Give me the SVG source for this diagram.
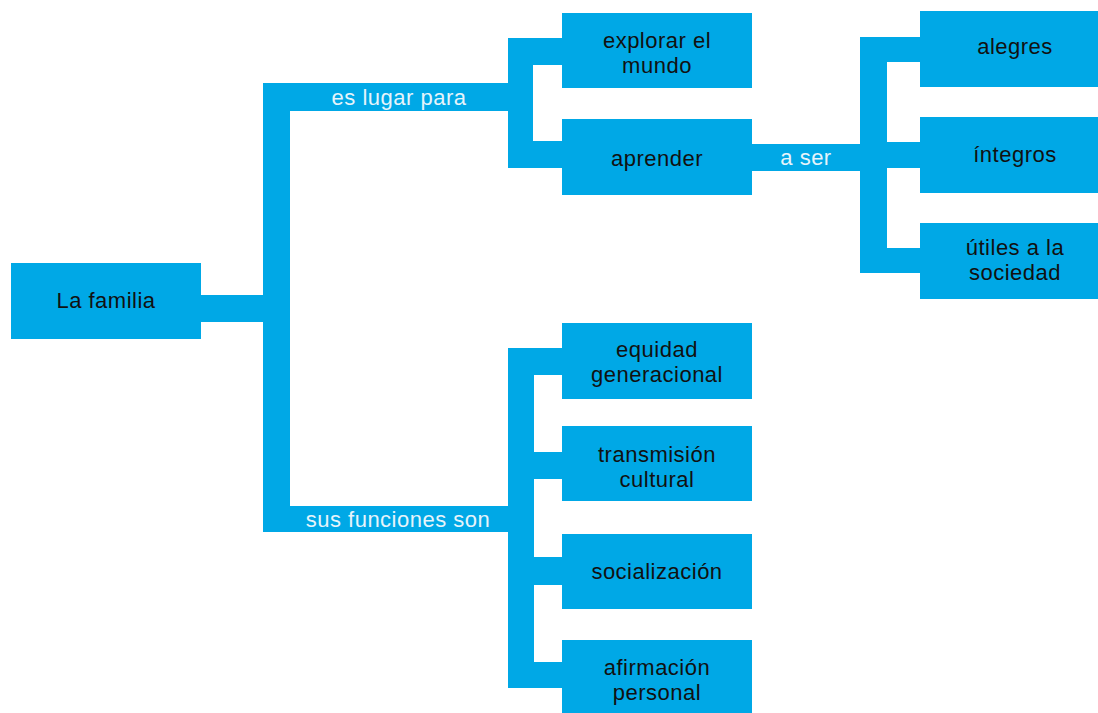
<svg xmlns="http://www.w3.org/2000/svg" width="1098" height="713" viewBox="0 0 1098 713">
<style>
.box{fill:#00A8E6}
.bar{fill:#00A8E6}
.t{font-family:"Liberation Sans",Arial,sans-serif;font-size:22px;letter-spacing:0.5px;fill:#111;text-anchor:middle}
.lbl{font-family:"Liberation Sans",Arial,sans-serif;font-size:22px;letter-spacing:0.5px;fill:#E6F4FB;text-anchor:middle}
</style>
<rect width="1098" height="713" fill="#fff"/>
<g id="connectors">
<rect class="bar" x="200" y="295" width="64" height="27"/>
<rect class="bar" x="263" y="83" width="27" height="449"/>
<rect class="bar" x="289" y="83" width="220" height="28"/>
<rect class="bar" x="289" y="506" width="220" height="26"/>
<rect class="bar" x="508" y="38" width="25" height="130"/>
<rect class="bar" x="532" y="38" width="31" height="27"/>
<rect class="bar" x="532" y="141" width="31" height="27"/>
<rect class="bar" x="750" y="144" width="111" height="27"/>
<rect class="bar" x="860" y="37" width="27" height="236"/>
<rect class="bar" x="886" y="37" width="35" height="25"/>
<rect class="bar" x="886" y="142" width="35" height="26"/>
<rect class="bar" x="886" y="248" width="35" height="25"/>
<rect class="bar" x="508" y="348" width="26" height="340"/>
<rect class="bar" x="533" y="348" width="30" height="27"/>
<rect class="bar" x="533" y="452" width="30" height="27"/>
<rect class="bar" x="533" y="557" width="30" height="28"/>
<rect class="bar" x="533" y="662" width="30" height="26"/>
<text class="lbl" x="399" y="105">es lugar para</text>
<text class="lbl" x="806" y="165">a ser</text>
<text class="lbl" x="398" y="527">sus funciones son</text>
</g>
<g id="la-familia"><rect class="box" x="11" y="263" width="190" height="76"/><text class="t" x="106" y="308">La familia</text></g>
<g id="explorar"><rect class="box" x="562" y="13" width="190" height="75"/><text class="t" x="657" y="48">explorar el</text><text class="t" x="657" y="73">mundo</text></g>
<g id="aprender"><rect class="box" x="562" y="119" width="190" height="76"/><text class="t" x="657" y="166">aprender</text></g>
<g id="alegres"><rect class="box" x="920" y="11" width="190" height="76"/><text class="t" x="1015" y="54">alegres</text></g>
<g id="integros"><rect class="box" x="920" y="117" width="190" height="76"/><text class="t" x="1015" y="162">íntegros</text></g>
<g id="utiles"><rect class="box" x="920" y="223" width="190" height="76"/><text class="t" x="1015" y="255">útiles a la</text><text class="t" x="1015" y="280">sociedad</text></g>
<g id="equidad"><rect class="box" x="562" y="323" width="190" height="76"/><text class="t" x="657" y="357">equidad</text><text class="t" x="657" y="382">generacional</text></g>
<g id="transmision"><rect class="box" x="562" y="426" width="190" height="75"/><text class="t" x="657" y="462">transmisión</text><text class="t" x="657" y="487">cultural</text></g>
<g id="socializacion"><rect class="box" x="562" y="534" width="190" height="75"/><text class="t" x="657" y="579">socialización</text></g>
<g id="afirmacion"><rect class="box" x="562" y="640" width="190" height="76"/><text class="t" x="657" y="675">afirmación</text><text class="t" x="657" y="700">personal</text></g>
</svg>
